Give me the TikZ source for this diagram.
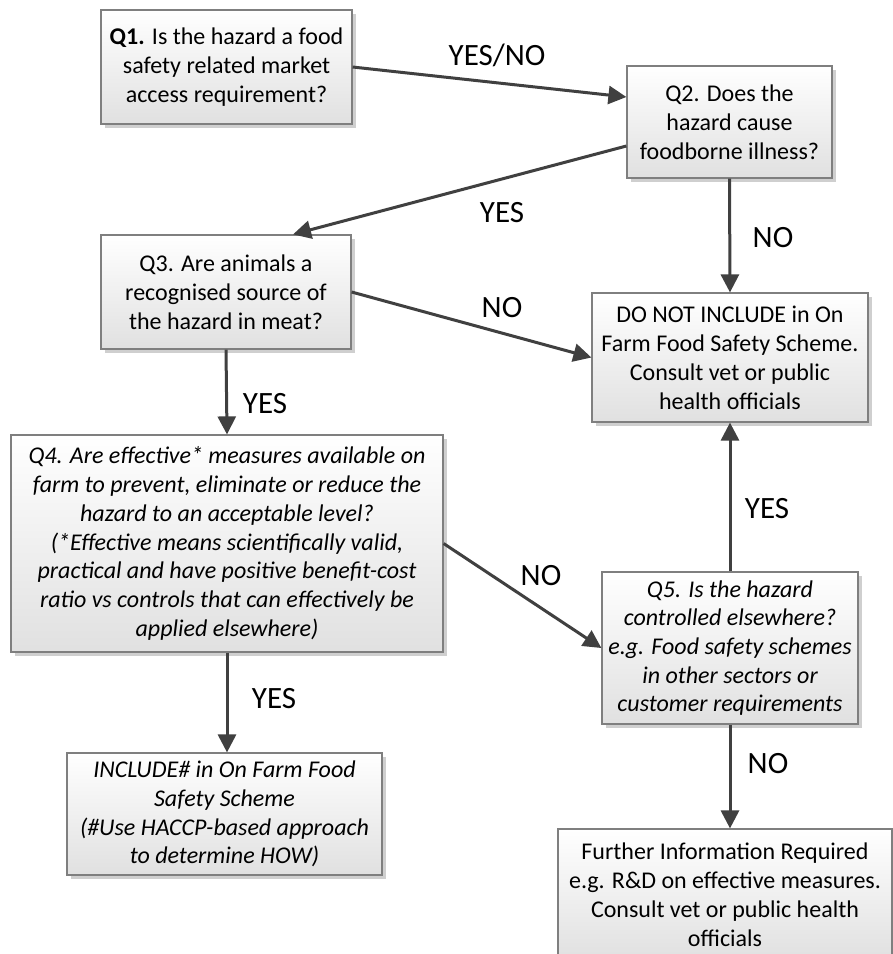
\documentclass[tikz,border=0pt]{standalone}
\usepackage{fontspec}
\setmainfont{Carlito}
\usetikzlibrary{arrows.meta,shadows,calc}
\definecolor{edgegray}{HTML}{7F7F7F}
\definecolor{arrowgray}{HTML}{404040}
\definecolor{shadowgray}{HTML}{CFCFCF}
\begin{document}
\begin{tikzpicture}[x=1pt,y=-1pt,
  box/.style={draw=edgegray, line width=1.2pt, top color=white, bottom color=black!12,
    drop shadow={shadow xshift=3.5pt, shadow yshift=-3.5pt, fill=shadowgray, opacity=1},
    align=center, inner sep=0pt, font=\fontsize{24}{29}\selectfont},
  slanted/.style={font=\fontsize{24}{28.7}\selectfont\itshape},
  flow/.style={draw=arrowgray, line width=3pt, -{Triangle[length=18pt,width=18pt]}},
  lbl/.style={anchor=base, font=\fontsize{31}{37}\selectfont, inner sep=0pt}]
  % page
  \fill[white] (0,0) rectangle (893,954);
  \useasboundingbox (0,0) rectangle (893,954);

  % decision and outcome boxes
  \node[box, minimum width=251pt, minimum height=114pt] (q1) at (226.5,67)
    {\textbf{Q1.} Is the hazard a food\\safety related market\\access requirement?};
  \node[box, minimum width=205pt, minimum height=112pt] (q2) at (729.5,122)
    {Q2. Does the\\hazard cause\\foodborne illness?};
  \node[box, minimum width=250pt, minimum height=114pt] (q3) at (226,292)
    {Q3. Are animals a\\recognised source of\\the hazard in meat?};
  \node[box, minimum width=276pt, minimum height=129pt] (ni) at (730,357.5)
    {DO NOT INCLUDE in On\\Farm Food Safety Scheme.\\Consult vet or public\\health officials};
  \node[box, slanted, minimum width=432pt, minimum height=217pt] (q4) at (227,543.5)
    {Q4. Are effective* measures available on\\farm to prevent, eliminate or reduce the\\hazard to an acceptable level?\\(*Effective means scientifically valid,\\practical and have positive benefit-cost\\ratio vs controls that can effectively be\\applied elsewhere)};
  \node[box, slanted, minimum width=256pt, minimum height=152pt] (q5) at (730,648)
    {Q5. Is the hazard\\controlled elsewhere?\\e.g. Food safety schemes\\in other sectors or\\customer requirements};
  \node[box, slanted, minimum width=315pt, minimum height=122pt] (inc) at (224.5,814)
    {INCLUDE\# in On Farm Food\\Safety Scheme\\(\#Use HACCP-based approach\\to determine HOW)};
  \node[box, minimum width=334pt, minimum height=131pt] (fu) at (725,894.5)
    {Further Information Required\\e.g. R\&D on effective measures.\\Consult vet or public health\\officials};

  % connectors
  \draw[flow] (q1.east) -- ([yshift=25pt]q2.west);
  \draw[flow] ([yshift=-24pt]q2.west) -- ([xshift=67pt]q3.north);
  \draw[flow] (q2.south) -- (ni.north);
  \draw[flow] (q3.east) -- (ni.west);
  \draw[flow] (q3.south) -- (q4.north);
  \draw[flow] (q4.east) -- (q5.west);
  \draw[flow] (q5.north) -- (ni.south);
  \draw[flow] (q4.south) -- (q4.south |- inc.north);
  \draw[flow] (q5.south) -- (q5.south |- fu.north);

  % connector labels
  \node[lbl] (l1) at (497,65) {YES/NO};
  \node[lbl] (l2) at (502,222) {YES};
  \node[lbl] (l3) at (773,247) {NO};
  \node[lbl] (l4) at (502,317) {NO};
  \node[lbl] (l5) at (265,413) {YES};
  \node[lbl] (l6) at (541,585) {NO};
  \node[lbl] (l7) at (767,518) {YES};
  \node[lbl] (l8) at (274,708) {YES};
  \node[lbl] (l9) at (768,773) {NO};
\end{tikzpicture}
\end{document}
